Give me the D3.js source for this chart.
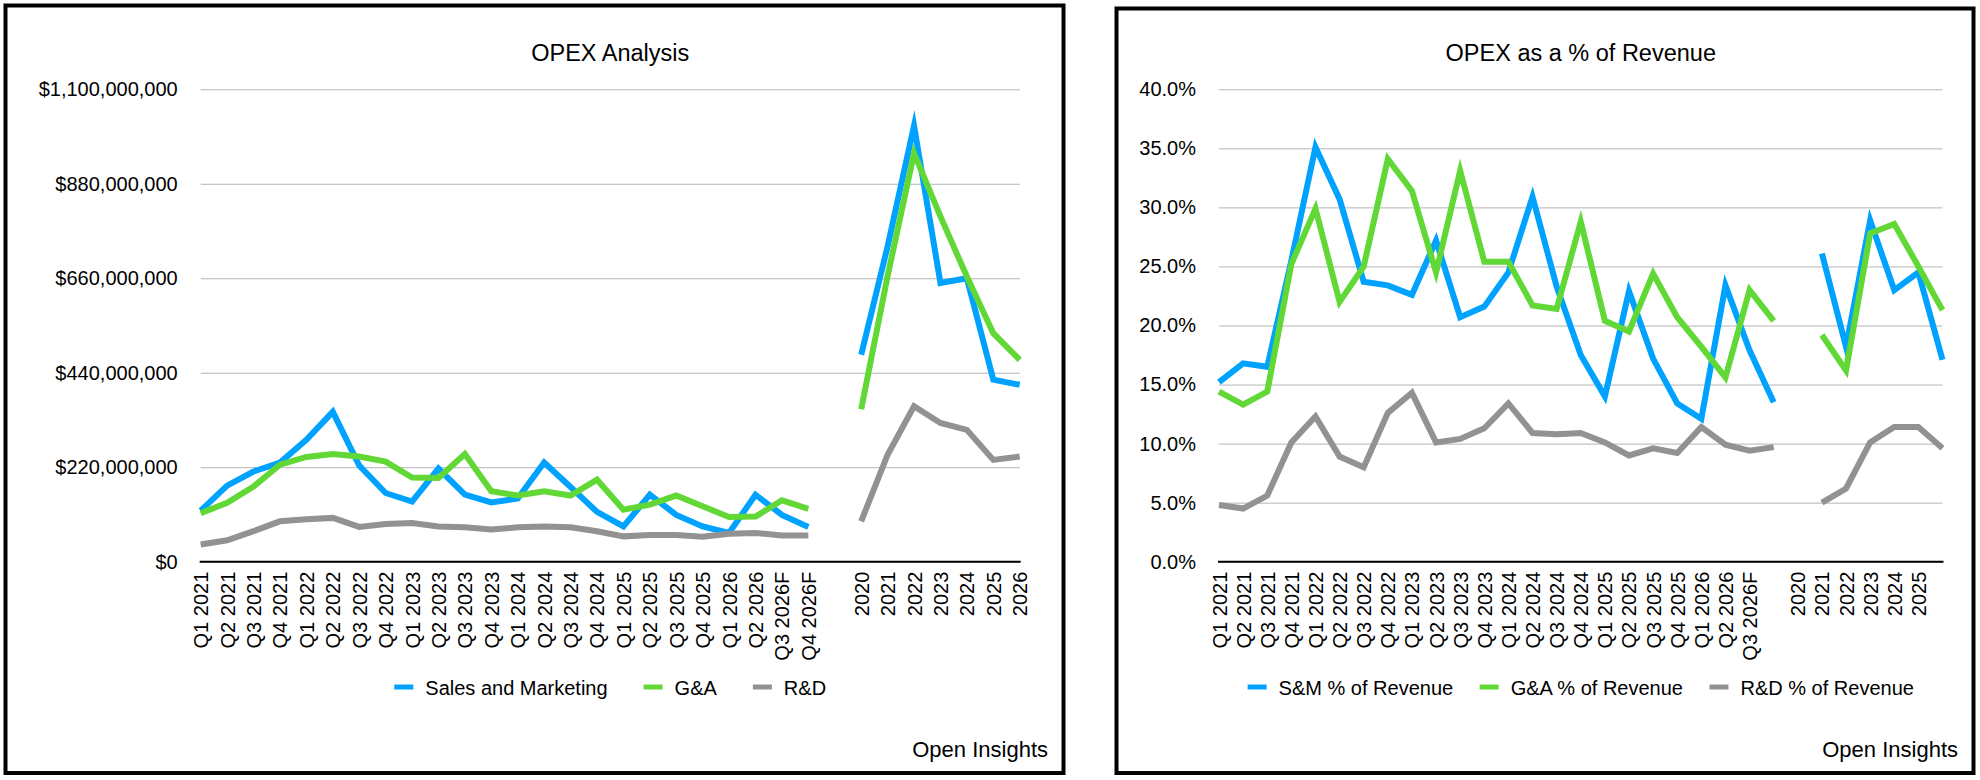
<!DOCTYPE html>
<html>
<head>
<meta charset="utf-8">
<script src="https://cdn.jsdelivr.net/npm/d3@7"></script>
<style>
  html, body { margin: 0; padding: 0; background: #fff; }
  svg { display: block; font-family: "Liberation Sans", Arial, Helvetica, sans-serif; }
</style>
</head>
<body>
<svg id="chart" width="1980" height="780"></svg>
<script>
// ---------- DATA ----------
const quarterLabels = ["Q1 2021","Q2 2021","Q3 2021","Q4 2021","Q1 2022","Q2 2022","Q3 2022","Q4 2022",
  "Q1 2023","Q2 2023","Q3 2023","Q4 2023","Q1 2024","Q2 2024","Q3 2024","Q4 2024",
  "Q1 2025","Q2 2025","Q3 2025","Q4 2025","Q1 2026","Q2 2026","Q3 2026F","Q4 2026F"];
const yearLabels = ["2020","2021","2022","2023","2024","2025","2026"];

// OPEX in $ millions
const smQuarter = [119,177,210,231,284,349,224,160,140,217,156,138,147,231,174,116,82,156,109,82,67,156,109,81];
const gaQuarter = [113,137,175,226,244,251,245,233,196,195,251,164,154,164,154,191,121,133,154,129,104,105,143,123];
const rdQuarter = [40,50,71,94,99,102,81,88,90,82,80,75,80,82,80,71,59,62,62,58,65,67,61,61];
const smYear = [482,734,1015,649,660,424,412];
const gaYear = [355,665,951,804,664,532,470];
const rdYear = [94,249,362,323,307,237,245];
const opexTicks = [0,220,440,660,880,1100];

// OPEX as % of revenue
const smPctQuarter = [15.2,16.8,16.5,25.5,35.1,30.7,23.7,23.4,22.6,27.2,20.7,21.6,24.5,30.9,23.3,17.5,14.0,22.9,17.2,13.4,12.1,23.4,17.9,13.5];
const gaPctQuarter = [14.4,13.3,14.4,25.2,29.9,22.0,25.0,34.1,31.4,24.5,33.1,25.4,25.4,21.7,21.4,28.8,20.4,19.5,24.4,20.7,18.2,15.6,23.0,20.4];
const rdPctQuarter = [4.8,4.5,5.6,10.1,12.3,8.9,8.0,12.6,14.3,10.1,10.4,11.3,13.4,10.9,10.8,10.9,10.1,9.0,9.6,9.2,11.4,9.9,9.4,9.7];
const smPctYear = [null,26.1,18.2,28.9,23.0,24.5,17.1];
const gaPctYear = [null,19.2,16.2,27.8,28.6,25.0,21.3];
const rdPctYear = [null,5.0,6.2,10.1,11.4,11.4,9.6];
const pctTicks = [0,5,10,15,20,25,30,35,40];

// Right chart hides the last label of each group
const pctQuarterLabels = quarterLabels.slice(0, 23).concat([""]);
const pctYearLabels = yearLabels.slice(0, 6).concat([""]);

const colors = { sm: "#00A2FF", ga: "#61D836", rd: "#929292" };

// ---------- DRAW ----------
const svg = d3.select("#chart");

// panel borders
svg.append("rect").attr("x", 5.5).attr("y", 5.5).attr("width", 1058).attr("height", 767.5)
  .attr("fill", "none").attr("stroke", "#000").attr("stroke-width", 4);
svg.append("rect").attr("x", 1116.5).attr("y", 8.5).attr("width", 857).attr("height", 764.5)
  .attr("fill", "none").attr("stroke", "#000").attr("stroke-width", 4);

function drawChart(cfg) {
  const g = svg.append("g");
  const n = cfg.labels.length;
  const x = d3.scalePoint().domain(d3.range(n)).range([cfg.x0, cfg.x1]);
  const y = d3.scaleLinear().domain([0, cfg.yMax]).range([cfg.yBottom, cfg.yTop]);

  // gridlines + y labels via axis
  const yAxis = d3.axisLeft(y).tickValues(cfg.ticks).tickSize(-(cfg.x1 - cfg.x0)).tickPadding(23).tickFormat(cfg.fmt);
  const ya = g.append("g").attr("transform", `translate(${cfg.x0},0)`).call(yAxis);
  ya.select(".domain").remove();
  ya.selectAll(".tick line").attr("stroke", "#b4b4b4").attr("stroke-width", 1);
  ya.selectAll(".tick text").attr("font-size", 20).attr("fill", "#000")
    .attr("font-family", "Liberation Sans, Arial, sans-serif");

  // baseline axis
  const xAxis = d3.axisBottom(x).tickSize(0).tickFormat(i => cfg.labels[i]);
  const xa = g.append("g").attr("transform", `translate(0,${cfg.yBottom})`).call(xAxis);
  xa.select(".domain").attr("stroke", "#000").attr("stroke-width", 2)
    .attr("d", `M${cfg.x0 - 1},0H${cfg.x1 + 1}`);
  xa.selectAll(".tick text")
    .attr("font-size", 20).attr("fill", "#000")
    .attr("font-family", "Liberation Sans, Arial, sans-serif")
    .attr("text-anchor", "end")
    .attr("transform", "translate(0,10) rotate(-90)")
    .attr("x", 0).attr("y", 0).attr("dy", "0.35em");

  // lines
  const line = d3.line().defined(d => d != null).x((d, i) => x(i)).y(d => y(d));
  cfg.series.forEach(s => {
    g.append("path").datum(s.values)
      .attr("fill", "none").attr("stroke", s.color).attr("stroke-width", 6)
      .attr("stroke-linejoin", "miter").attr("stroke-miterlimit", 10).attr("stroke-linecap", "butt")
      .attr("d", line);
  });

  // title
  g.append("text").attr("x", (cfg.x0 + cfg.x1) / 2).attr("y", 61).attr("text-anchor", "middle")
    .attr("font-size", 23.5).text(cfg.title);

  // legend
  const lg = g.append("g");
  let cx = 0;
  cfg.series.forEach((s, i) => {
    const item = lg.append("g").attr("transform", `translate(${cx},0)`);
    item.append("line").attr("x1", 0).attr("x2", 19).attr("y1", 687).attr("y2", 687)
      .attr("stroke", s.color).attr("stroke-width", 5);
    const t = item.append("text").attr("x", 31).attr("y", 695).attr("font-size", 20).text(s.name);
    cx += 31 + t.node().getComputedTextLength() + cfg.legendGap;
  });
  const lw = cx - cfg.legendGap;
  lg.attr("transform", `translate(${(cfg.x0 + cfg.x1) / 2 - lw / 2},0)`);

  // watermark
  g.append("text").attr("x", cfg.creditX).attr("y", 757).attr("text-anchor", "end")
    .attr("font-size", 22).text("Open Insights");
}

const opexLabels = quarterLabels.concat([""]).concat(yearLabels);
drawChart({
  title: "OPEX Analysis",
  labels: opexLabels,
  x0: 200.7, x1: 1019.7, yTop: 89.3, yBottom: 561.7, yMax: 1100,
  ticks: opexTicks,
  fmt: v => "$" + d3.format(",")(v * 1000000),
  series: [
    { name: "Sales and Marketing", color: colors.sm, values: smQuarter.concat([null]).concat(smYear) },
    { name: "G&A", color: colors.ga, values: gaQuarter.concat([null]).concat(gaYear) },
    { name: "R&D", color: colors.rd, values: rdQuarter.concat([null]).concat(rdYear) }
  ],
  legendGap: 36,
  creditX: 1048
});

drawChart({
  title: "OPEX as a % of Revenue",
  labels: pctQuarterLabels.concat(pctYearLabels),
  x0: 1219, x1: 1942.5, yTop: 89.3, yBottom: 561.7, yMax: 40,
  ticks: pctTicks,
  fmt: v => d3.format(".1f")(v) + "%",
  series: [
    { name: "S&M % of Revenue", color: colors.sm, values: smPctQuarter.concat(smPctYear) },
    { name: "G&A % of Revenue", color: colors.ga, values: gaPctQuarter.concat(gaPctYear) },
    { name: "R&D % of Revenue", color: colors.rd, values: rdPctQuarter.concat(rdPctYear) }
  ],
  legendGap: 26.5,
  creditX: 1958
});
</script>
</body>
</html>
